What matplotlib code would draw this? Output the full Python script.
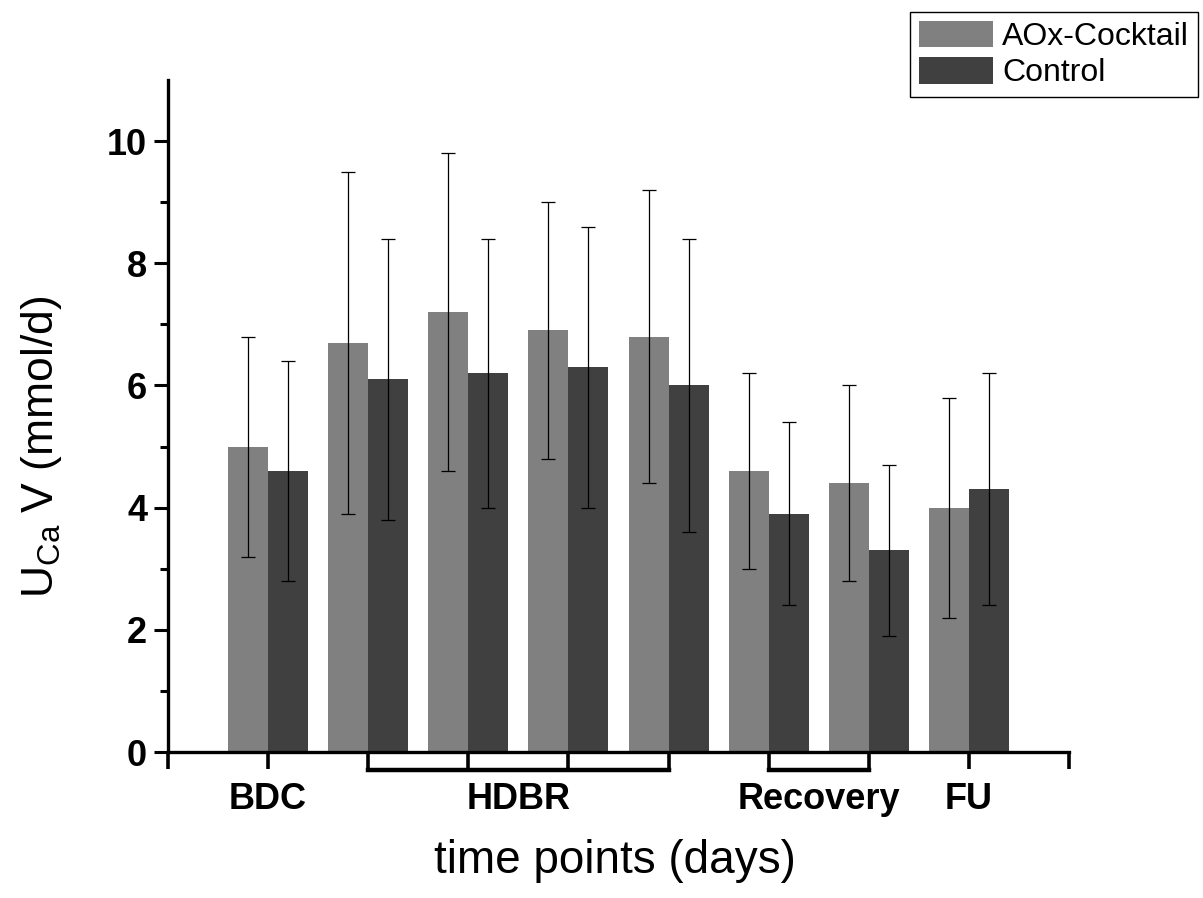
import matplotlib
matplotlib.use("Agg")
import matplotlib.pyplot as plt
from matplotlib.patches import Patch
import numpy as np

plt.rcParams['font.family'] = ['Liberation Sans', 'DejaVu Sans']
plt.rcParams['mathtext.fontset'] = 'custom'
plt.rcParams['mathtext.rm'] = 'Liberation Sans'

positions = [1, 2, 3, 4, 5, 6, 7, 8]
aox_mean = [5.0, 6.7, 7.2, 6.9, 6.8, 4.6, 4.4, 4.0]
aox_err = [1.8, 2.8, 2.6, 2.1, 2.4, 1.6, 1.6, 1.8]
ctrl_mean = [4.6, 6.1, 6.2, 6.3, 6.0, 3.9, 3.3, 4.3]
ctrl_err = [1.8, 2.3, 2.2, 2.3, 2.4, 1.5, 1.4, 1.9]
series_names = ["AOx-Cocktail", "Control"]
group_labels = ["BDC", "HDBR", "Recovery", "FU"]
group_label_pos = [1, 3.5, 6.5, 8]
brackets = [(2, 5), (6, 7)]

c_aox = "#808080"
c_ctrl = "#404040"

fig = plt.figure(figsize=(12.03, 8.98), dpi=100)
ax = fig.add_axes([168/1203, 1-752/898, (1069-168)/1203, (752-80)/898])

w = 0.4
x = np.array(positions, dtype=float)
ax.bar(x - w/2, aox_mean, w, color=c_aox, zorder=2)
ax.bar(x + w/2, ctrl_mean, w, color=c_ctrl, zorder=2)
ax.errorbar(x - w/2, aox_mean, yerr=aox_err, fmt='none', ecolor='black',
            elinewidth=0.9, capsize=5, capthick=0.9, zorder=3)
ax.errorbar(x + w/2, ctrl_mean, yerr=ctrl_err, fmt='none', ecolor='black',
            elinewidth=0.9, capsize=5, capthick=0.9, zorder=3)

ax.set_xlim(0, 9)
ax.set_ylim(0, 11)
for s in ['top', 'right']:
    ax.spines[s].set_visible(False)
for s in ['left', 'bottom']:
    ax.spines[s].set_linewidth(2.4)

ax.set_yticks([0, 2, 4, 6, 8, 10])
ax.set_yticks([1, 3, 5, 7, 9], minor=True)
ax.tick_params(axis='y', which='major', direction='out', length=10, width=2.2,
               labelsize=26, pad=5)
ax.tick_params(axis='y', which='minor', direction='out', length=6, width=2.2)
for lab in ax.get_yticklabels():
    lab.set_fontweight('bold')

ax.set_xticks(range(0, 10))
ax.set_xticklabels([])
ax.tick_params(axis='x', which='major', direction='out', length=12, width=2.6)

# brackets under the axis
trans = ax.get_xaxis_transform()
yb = -18/672
for a, b in brackets:
    ax.plot([a, b], [yb, yb], color='black', lw=3.2, transform=trans,
            clip_on=False, solid_capstyle='projecting')

for pos, lab in zip(group_label_pos, group_labels):
    ax.text(pos, -30/672, lab, transform=trans, ha='center', va='top',
            fontsize=26, fontweight='bold')

fig.text(615/1203, 1-861/898, "time points (days)", fontsize=33,
         ha='center', va='center')
fig.text(42/1203, 1-447/898, r"U$_{\mathregular{Ca}}$ V (mmol/d)", fontsize=32,
         ha='center', va='center', rotation=90)

handles = [Patch(facecolor=c_aox), Patch(facecolor=c_ctrl)]
fig.legend(handles, series_names, loc='upper right',
           bbox_to_anchor=(1198/1203, 1-12/898), fontsize=23,
           frameon=True, fancybox=False, edgecolor='black', framealpha=1,
           handlelength=2.3, handleheight=0.9, handletextpad=0.3,
           labelspacing=0.15, borderpad=0.28, borderaxespad=0)
fig.legends[0].get_frame().set_linewidth(1.0)

fig.savefig("out.png", dpi=100)
